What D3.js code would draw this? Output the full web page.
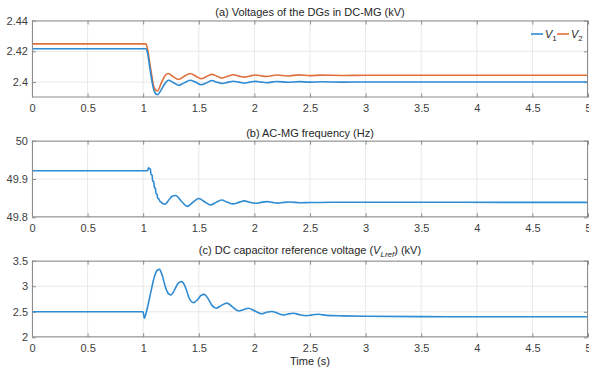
<!DOCTYPE html>
<html>
<head>
<meta charset="utf-8">
<script src="https://cdn.jsdelivr.net/npm/d3@7"></script>
<style>
  body { margin: 0; background: #fff; }
  svg { display: block; font-family: "Liberation Sans", Arial, sans-serif; }
  .tick text { fill: #404040; font-size: 11px; }
  .tick line { stroke: #8c8c8c; }
  .title { fill: #262626; font-size: 11px; text-anchor: middle; }
</style>
</head>
<body>
<svg id="chart" width="589" height="368"></svg>
<script>
// DATA --------------------------------------------------------------
const xTicks = [0, 0.5, 1, 1.5, 2, 2.5, 3, 3.5, 4, 4.5, 5]

// (a) DG voltages (kV)
const tV = [0, 1.025, 1.04, 1.06, 1.08, 1.10, 1.128, 1.16, 1.2, 1.228, 1.27, 1.318, 1.37, 1.422, 1.47, 1.521, 1.57, 1.617,
  1.66, 1.707, 1.76, 1.81, 1.86, 1.91, 1.96, 2.01, 2.06, 2.11, 2.2, 2.3, 2.4, 2.5, 2.6, 2.8, 3.0, 5]
const v1 = [2.4217, 2.4217, 2.4185, 2.409, 2.400, 2.394, 2.3918, 2.3948, 2.3995, 2.4012, 2.3998, 2.3980, 2.3995, 2.4012,
  2.4000, 2.3983, 2.3995, 2.4010, 2.4000, 2.3991, 2.3998, 2.4006, 2.4000, 2.3994, 2.4000, 2.4005, 2.4000, 2.3996,
  2.4004, 2.3999, 2.4003, 2.4000, 2.4002, 2.4000, 2.4001, 2.4001]
const v2 = [2.4248, 2.4248, 2.421, 2.412, 2.403, 2.396, 2.3942, 2.399, 2.4045, 2.4056, 2.4035, 2.4017, 2.4038, 2.4056,
  2.4040, 2.4022, 2.4036, 2.4050, 2.4040, 2.4026, 2.4038, 2.4048, 2.4040, 2.4032, 2.4040, 2.4046, 2.4041, 2.4036,
  2.4046, 2.4040, 2.4047, 2.4042, 2.4045, 2.4043, 2.4044, 2.4044]
const yTicksA = [2.4, 2.42, 2.44]

// (b) AC-MG frequency (Hz)
const tF = [0, 1.04, 1.048, 1.058, 1.065, 1.07, 1.08, 1.085, 1.095, 1.10, 1.11, 1.115, 1.125, 1.13, 1.14, 1.15, 1.16,
  1.175, 1.198, 1.23, 1.26, 1.29, 1.35, 1.395, 1.45, 1.50, 1.555, 1.605, 1.655, 1.705, 1.76, 1.81, 1.86, 1.91, 1.96,
  2.015, 2.06, 2.11, 2.16, 2.21, 2.265, 2.32, 2.41, 2.5, 2.7, 5]
const freq = [49.9217, 49.9217, 49.929, 49.927, 49.926, 49.912, 49.910, 49.895, 49.893, 49.878, 49.876, 49.862, 49.860,
  49.850, 49.848, 49.842, 49.840, 49.836, 49.8345, 49.845, 49.855, 49.857, 49.840, 49.8285, 49.840, 49.849, 49.840,
  49.832, 49.839, 49.845, 49.839, 49.835, 49.839, 49.843, 49.839, 49.8365, 49.839, 49.841, 49.839, 49.837, 49.839,
  49.840, 49.838, 49.8385, 49.8392, 49.839]
const yTicksB = [49.8, 49.9, 50]

// (c) DC capacitor reference voltage (kV)
const tC = [0, 0.995, 1.0, 1.01, 1.02, 1.04, 1.07, 1.10, 1.125, 1.147, 1.17, 1.20, 1.225, 1.249, 1.28, 1.315, 1.347,
  1.38, 1.415, 1.452, 1.49, 1.52, 1.548, 1.58, 1.62, 1.656, 1.70, 1.752, 1.80, 1.857, 1.90, 1.946, 2.0, 2.066, 2.11,
  2.156, 2.21, 2.26, 2.30, 2.35, 2.41, 2.47, 2.52, 2.575, 2.65, 2.8, 3.0, 3.5, 4, 5]
const vLref = [2.501, 2.501, 2.49, 2.372, 2.43, 2.6, 2.9, 3.18, 3.31, 3.33, 3.22, 2.98, 2.86, 2.83, 2.92, 3.06, 3.09,
  2.98, 2.76, 2.68, 2.74, 2.82, 2.84, 2.77, 2.62, 2.57, 2.62, 2.67, 2.60, 2.515, 2.54, 2.57, 2.52, 2.46, 2.49,
  2.505, 2.47, 2.436, 2.455, 2.47, 2.44, 2.423, 2.44, 2.45, 2.43, 2.42, 2.412, 2.405, 2.403, 2.402]
const yTicksC = [2, 2.5, 3, 3.5]

const blue = "#2f8bd2", orange = "#e0703c"

// LAYOUT ------------------------------------------------------------
const svg = d3.select("#chart")
const x = d3.scaleLinear().domain([0, 5]).range([32, 588])

function panel(top, bottom, yDomain, yTicks) {
  const y = d3.scaleLinear().domain(yDomain).range([bottom, top])
  const g = svg.append("g")

  // grid
  g.selectAll(".gx").data(xTicks).join("line")
    .attr("x1", d => x(d)).attr("x2", d => x(d))
    .attr("y1", top).attr("y2", bottom)
    .attr("stroke", "#e8e8e8").attr("stroke-width", 1)
  g.selectAll(".gy").data(yTicks).join("line")
    .attr("x1", x(0)).attr("x2", x(5))
    .attr("y1", d => y(d)).attr("y2", d => y(d))
    .attr("stroke", "#e8e8e8").attr("stroke-width", 1)

  const fmt = d3.format("")
  g.append("g").attr("transform", `translate(0,${bottom})`)
    .call(d3.axisBottom(x).tickValues(xTicks).tickFormat(fmt).tickSizeInner(-4).tickSizeOuter(0).tickPadding(7))
  g.append("g").attr("transform", `translate(0,${top})`)
    .call(d3.axisTop(x).tickValues(xTicks).tickFormat("").tickSizeInner(-4).tickSizeOuter(0))
  g.append("g").attr("transform", `translate(${x(0)},0)`)
    .call(d3.axisLeft(y).tickValues(yTicks).tickFormat(fmt).tickSizeInner(-4).tickSizeOuter(0).tickPadding(4))
  g.append("g").attr("transform", `translate(${x(5)},0)`)
    .call(d3.axisRight(y).tickValues(yTicks).tickFormat("").tickSizeInner(-4).tickSizeOuter(0))
  g.selectAll(".domain").remove()

  const clip = "clip" + top
  svg.append("clipPath").attr("id", clip).append("rect")
    .attr("x", x(0)).attr("y", top).attr("width", x(5) - x(0)).attr("height", bottom - top)

  return {g, y, clip, top, bottom}
}

function frame(p) {
  p.g.append("rect")
    .attr("x", x(0) + 0.5).attr("y", p.top + 0.5)
    .attr("width", x(5) - x(0) - 1).attr("height", p.bottom - p.top - 1)
    .attr("fill", "none").attr("stroke", "#8c8c8c")
}

function series(p, ts, vs, color) {
  const line = d3.line().curve(d3.curveMonotoneX).x(d => x(d[0])).y(d => p.y(d[1]))
  p.g.append("path")
    .datum(d3.zip(ts, vs))
    .attr("clip-path", `url(#${p.clip})`)
    .attr("fill", "none").attr("stroke", color).attr("stroke-width", 1.6)
    .attr("d", line)
}

// (a)
const pA = panel(20.5, 97.5, [2.39, 2.44], yTicksA)
series(pA, tV, v2, orange)
series(pA, tV, v1, blue)
frame(pA)
svg.append("text").attr("class", "title").attr("x", 310).attr("y", 16)
  .text("(a) Voltages of the DGs in DC-MG (kV)")

// legend
const leg = svg.append("g").attr("font-size", 11).attr("fill", "#262626")
;[[531, blue, "1"], [557, orange, "2"]].forEach(([lx, c, s]) => {
  leg.append("line").attr("x1", lx).attr("x2", lx + 12).attr("y1", 34).attr("y2", 34)
    .attr("stroke", c).attr("stroke-width", 1.6)
  const t = leg.append("text").attr("x", lx + 14).attr("y", 38)
  t.append("tspan").attr("font-style", "italic").text("V")
  t.append("tspan").attr("font-size", 8).attr("dy", 3).text(s)
})

// (b)
const pB = panel(140.7, 217.3, [49.8, 50], yTicksB)
series(pB, tF, freq, blue)
frame(pB)
svg.append("text").attr("class", "title").attr("x", 310).attr("y", 137)
  .text("(b) AC-MG frequency (Hz)")

// (c)
const pC = panel(260.7, 337.3, [2, 3.5], yTicksC)
series(pC, tC, vLref, blue)
frame(pC)
const tc = svg.append("text").attr("class", "title").attr("x", 310).attr("y", 254)
tc.append("tspan").text("(c) DC capacitor reference voltage (")
tc.append("tspan").attr("font-style", "italic").text("V")
tc.append("tspan").attr("font-style", "italic").attr("font-size", 8).attr("dy", 3).text("Lref")
tc.append("tspan").attr("dy", -3).text(") (kV)")

svg.append("text").attr("class", "title").attr("x", 310).attr("y", 365).text("Time (s)")
</script>
</body>
</html>
